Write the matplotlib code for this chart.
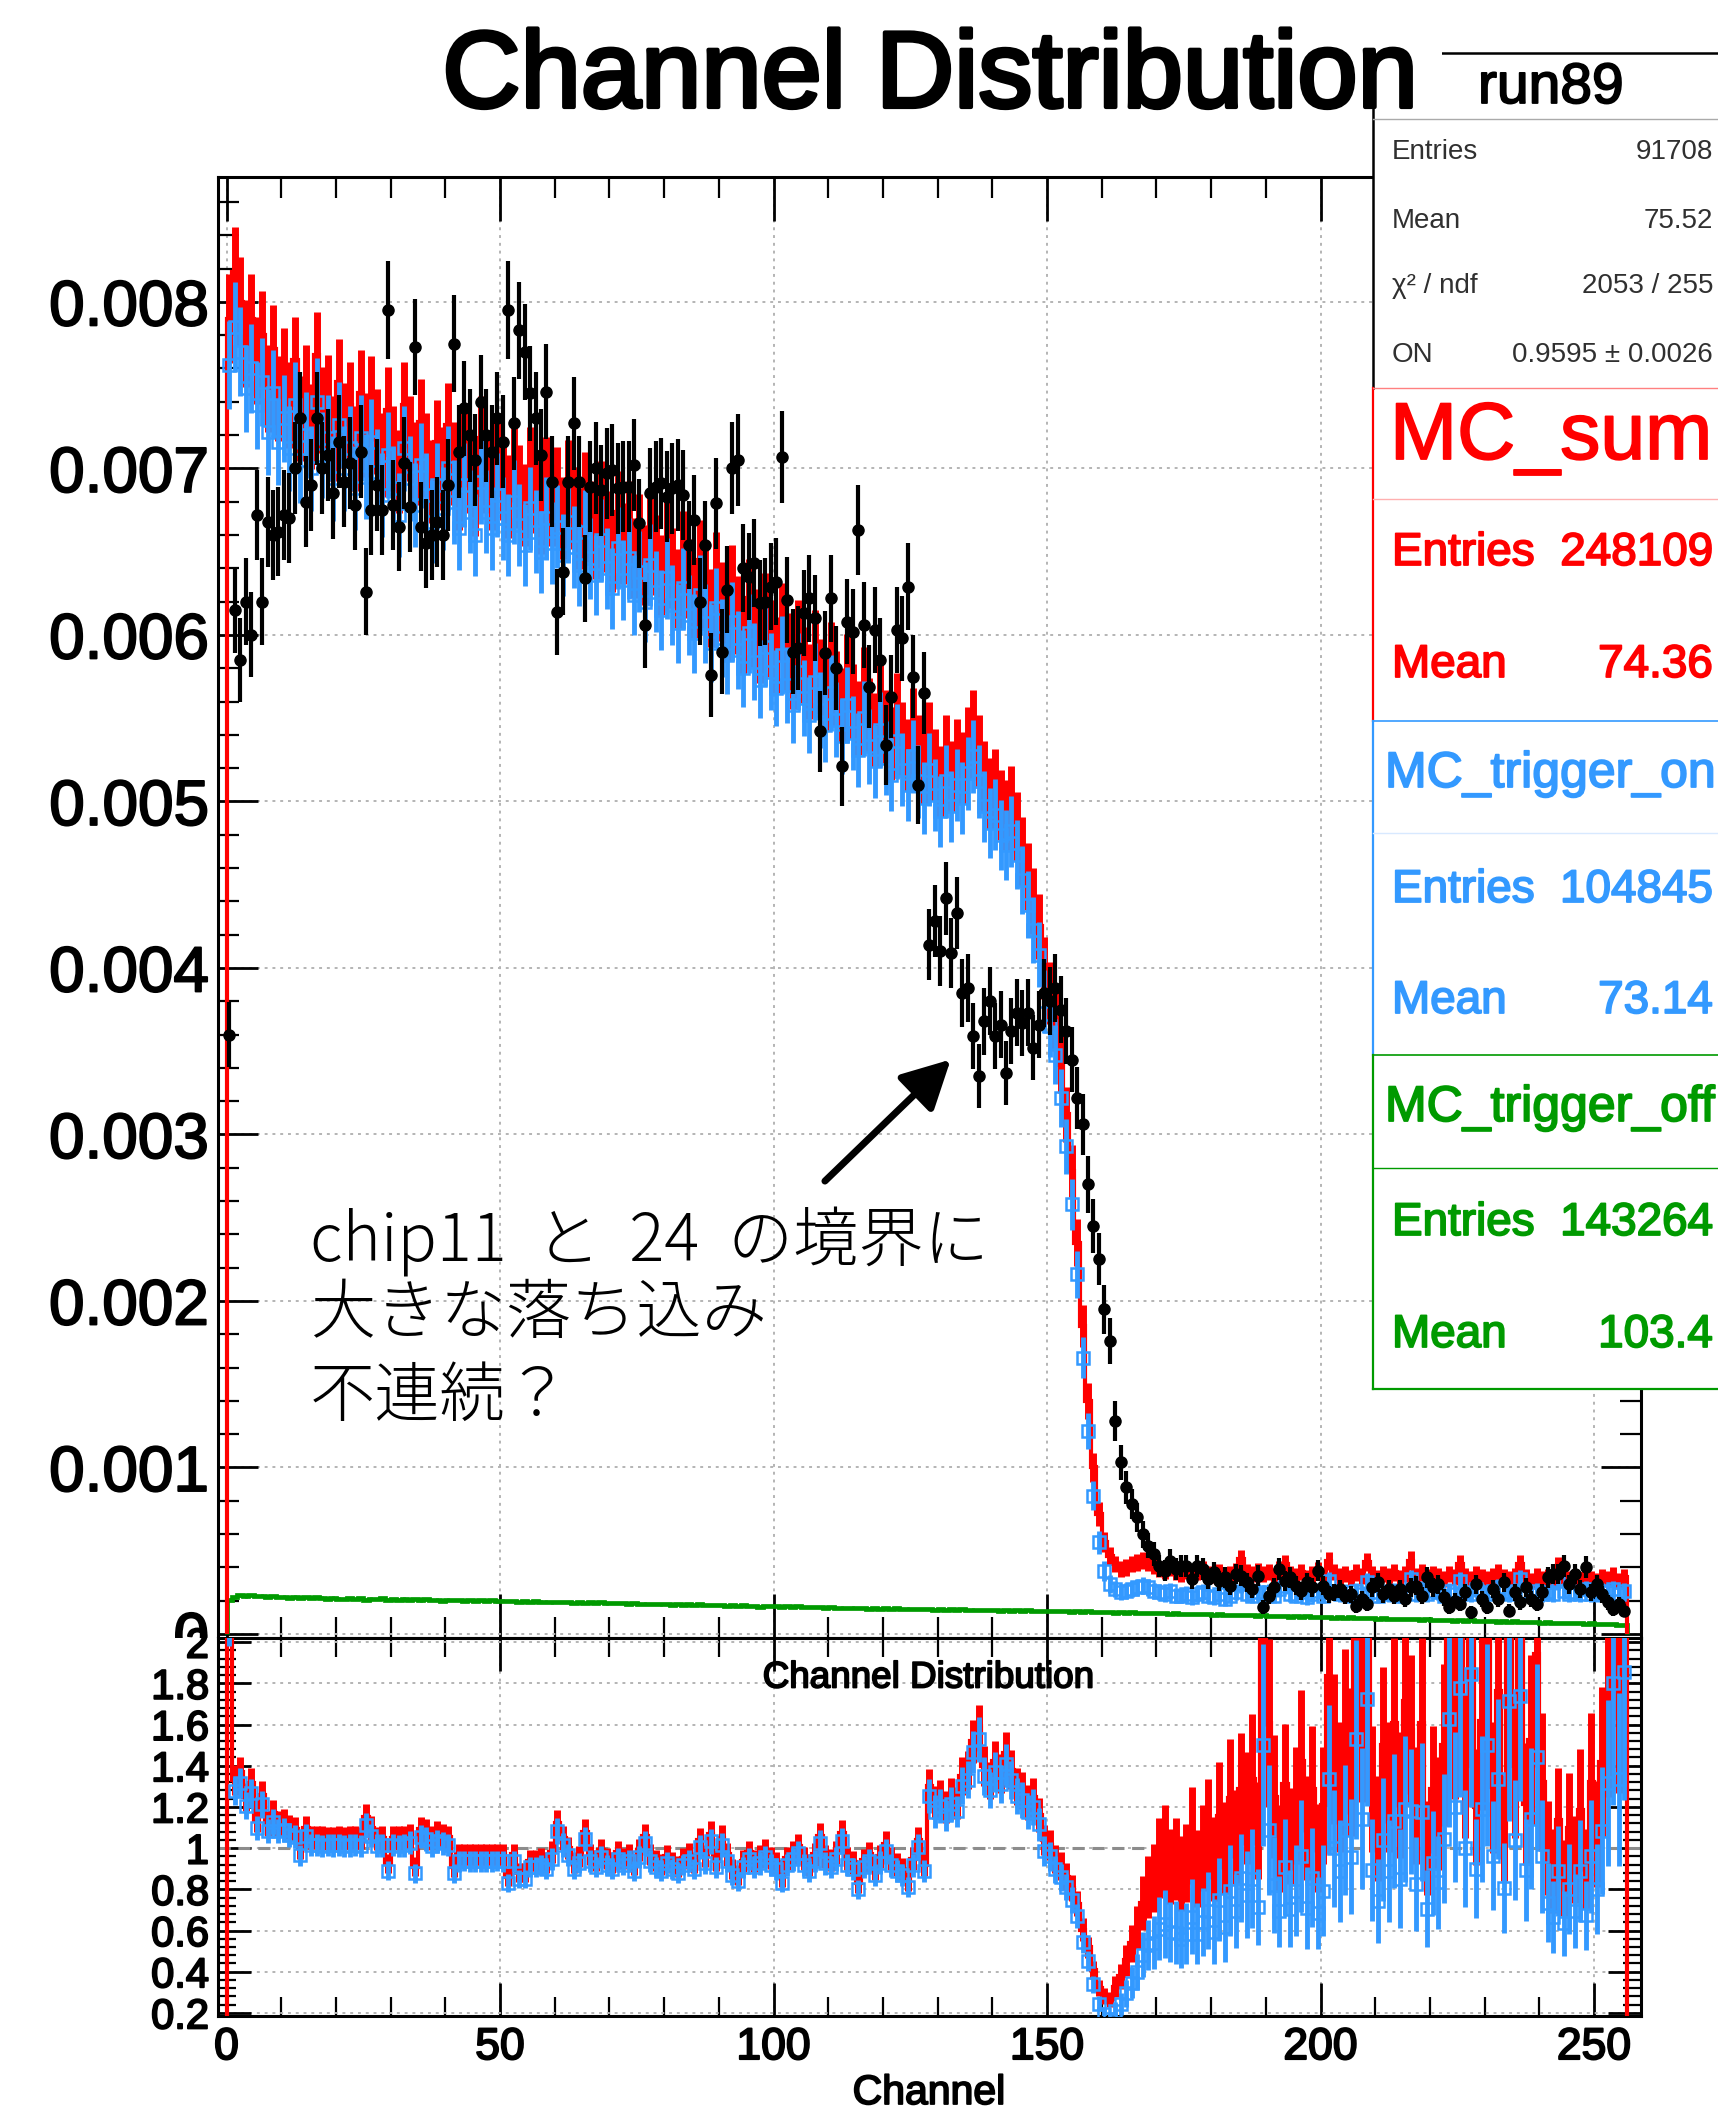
import numpy as np
import matplotlib
matplotlib.use("Agg")
import matplotlib.pyplot as plt
import matplotlib.patheffects as pe
from matplotlib.ticker import FixedLocator, MultipleLocator, AutoMinorLocator, FuncFormatter
from matplotlib.patches import Rectangle
from matplotlib.lines import Line2D

plt.rcParams['font.family'] = ['Liberation Sans', 'DejaVu Sans']

# ---- normalised bin contents per channel (0..255), in units of 1e-5 ----
data_e5 = [
    360, 615, 585, 620, 600, 672, 620, 668, 660, 662,
    672, 670, 700, 730, 680, 690, 730, 700, 708, 685,
    716, 692, 703, 678, 710, 626, 675, 690, 675, 795,
    678, 665, 703, 677, 773, 665, 655, 660, 668, 660,
    690, 775, 710, 736, 720, 705, 740, 720, 710, 730,
    716, 795, 727, 783, 770, 745, 730, 708, 746, 692,
    614, 638, 692, 727, 692, 634, 689, 700, 687, 697,
    699, 688, 689, 689, 702, 667, 606, 685, 689, 691,
    683, 688, 690, 684, 654, 669, 620, 654, 576, 679,
    590, 627, 700, 705, 640, 635, 643, 619, 620, 629,
    632, 707, 621, 590, 592, 613, 622, 610, 542, 589,
    622, 580, 521, 608, 602, 663, 606, 569, 603, 585,
    534, 563, 603, 598, 629, 575, 510, 565, 414, 428,
    410, 442, 409, 433, 385, 388, 359, 335, 368, 380,
    359, 366, 337, 362, 373, 367, 373, 352, 366, 385,
    380, 388, 375, 362, 345, 322, 306, 270, 245, 225,
    195, 176, 128, 103, 88, 78, 70, 60, 53, 48,
    41, 38, 44, 39, 41, 41, 33, 41, 39, 33,
    37, 32, 34, 29, 36, 35, 31, 27, 35, 16,
    23, 28, 39, 32, 34, 29, 26, 31, 28, 38,
    29, 24, 25, 27, 23, 24, 17, 21, 18, 28,
    31, 24, 27, 23, 27, 21, 28, 29, 23, 34,
    28, 30, 22, 16, 20, 18, 25, 13, 30, 21,
    16, 27, 21, 31, 14, 25, 19, 28, 21, 18,
    25, 34, 36, 36, 41, 30, 36, 27, 40, 25,
    30, 24, 19, 15, 18, 14,
]

mc_sum_e5 = [
    790, 818, 800, 775, 790, 765, 780, 748, 772, 742,
    758, 738, 765, 730, 748, 725, 768, 735, 742, 718,
    752, 726, 738, 712, 745, 720, 742, 722, 708, 735,
    712, 698, 738, 718, 703, 728, 708, 692, 716, 700,
    726, 703, 688, 714, 698, 684, 718, 698, 688, 708,
    694, 683, 705, 689, 678, 700, 686, 673, 694, 678,
    688, 670, 692, 676, 664, 685, 668, 658, 680, 662,
    650, 674, 655, 668, 646, 660, 642, 664, 648, 636,
    656, 640, 628, 650, 634, 622, 645, 628, 616, 638,
    620, 608, 630, 612, 600, 622, 604, 594, 614, 598,
    588, 608, 590, 578, 598, 582, 572, 592, 575, 565,
    585, 568, 558, 578, 560, 550, 570, 552, 543, 562,
    545, 535, 555, 538, 528, 546, 530, 520, 538, 522,
    512, 530, 515, 528, 520, 535, 545, 530, 515, 505,
    510, 498, 492, 500, 485, 470, 455, 440, 425, 400,
    385, 368, 342, 312, 278, 235, 185, 140, 100, 72,
    55, 47, 42, 39, 40, 42, 43, 44, 43, 41,
    39, 38, 40, 37, 36, 38, 35, 37, 39, 36,
    35, 37, 34, 36, 38, 45, 37, 36, 38, 36,
    37, 35, 39, 42, 36, 35, 37, 34, 36, 38,
    35, 44, 37, 35, 36, 34, 37, 35, 43, 36,
    34, 36, 35, 37, 34, 36, 44, 35, 37, 34,
    36, 35, 33, 36, 34, 42, 35, 33, 36, 34,
    33, 35, 37, 34, 33, 35, 42, 34, 32, 35,
    33, 34, 32, 41, 35, 33, 34, 32, 36, 33,
    32, 34, 33, 35, 32, 34,
]

mc_on_e5 = [
    762, 785, 770, 748, 760, 738, 752, 722, 745, 716,
    730, 712, 738, 705, 720, 700, 740, 708, 718, 694,
    726, 700, 712, 688, 718, 695, 716, 698, 684, 708,
    688, 672, 712, 694, 678, 702, 684, 668, 690, 676,
    700, 680, 664, 690, 674, 660, 692, 674, 664, 684,
    670, 660, 680, 666, 654, 676, 662, 650, 670, 655,
    665, 648, 668, 653, 642, 662, 646, 636, 657, 640,
    628, 652, 633, 646, 624, 638, 620, 642, 626, 615,
    634, 618, 607, 628, 612, 601, 624, 607, 595, 616,
    598, 588, 608, 591, 580, 601, 584, 573, 593, 578,
    568, 588, 570, 558, 578, 562, 552, 572, 555, 546,
    565, 549, 539, 558, 541, 531, 550, 533, 524, 543,
    526, 516, 536, 519, 510, 527, 512, 502, 519, 504,
    494, 512, 497, 510, 502, 517, 527, 512, 497, 487,
    492, 480, 474, 482, 468, 453, 438, 423, 408, 380,
    365, 348, 322, 293, 258, 216, 166, 122, 83, 55,
    38, 30, 27, 25, 26, 27, 28, 29, 28, 26,
    25, 24, 26, 23, 23, 24, 22, 24, 25, 23,
    22, 24, 21, 23, 25, 30, 24, 23, 25, 24,
    25, 23, 27, 29, 24, 23, 25, 22, 24, 26,
    23, 32, 25, 24, 25, 23, 26, 24, 31, 25,
    23, 25, 24, 26, 23, 25, 33, 24, 27, 24,
    26, 25, 23, 26, 24, 32, 25, 24, 27, 25,
    24, 26, 28, 25, 24, 26, 33, 25, 24, 26,
    24, 25, 24, 32, 26, 24, 25, 24, 27, 24,
    24, 26, 25, 27, 24, 26,
]

mc_off_e5 = [
    20.5, 22.0, 23.2, 22.6, 23.4, 22.7, 23.0, 22.2, 22.9, 22.1,
    22.5, 21.8, 22.4, 21.6, 22.1, 21.5, 22.2, 21.9, 21.2, 21.8,
    21.3, 21.0, 21.7, 21.1, 21.4, 20.7, 21.3, 21.0, 21.5, 20.6,
    20.9, 20.7, 21.2, 20.4, 20.9, 20.2, 20.8, 20.5, 20.6, 20.0,
    20.6, 20.3, 20.4, 19.8, 20.5, 20.0, 20.2, 19.7, 20.3, 19.6,
    20.0, 19.7, 19.8, 19.4, 19.9, 19.2, 19.7, 19.5, 19.5, 19.0,
    19.4, 19.1, 19.3, 18.8, 19.2, 18.7, 19.0, 18.6, 19.1, 18.4,
    18.8, 18.5, 18.6, 18.1, 18.7, 18.0, 18.3, 18.1, 18.2, 17.8,
    18.2, 17.6, 18.0, 17.7, 17.8, 17.3, 17.9, 17.2, 17.5, 17.2,
    17.4, 17.0, 17.5, 16.8, 17.2, 16.9, 17.0, 16.5, 16.9, 16.6,
    16.7, 16.4, 16.6, 16.1, 16.6, 16.0, 16.3, 16.1, 16.2, 15.8,
    16.1, 15.8, 15.9, 15.6, 15.9, 15.4, 15.8, 15.3, 15.6, 15.3,
    15.5, 15.1, 15.5, 15.0, 15.3, 15.0, 15.2, 14.8, 15.2, 14.7,
    15.0, 14.7, 14.9, 14.5, 14.9, 14.4, 14.7, 14.4, 14.6, 14.2,
    14.6, 14.1, 14.4, 14.1, 14.3, 13.9, 14.3, 13.8, 14.1, 13.9,
    13.7, 14.0, 13.6, 13.8, 13.5, 13.7, 13.3, 13.6, 13.2, 13.5,
    13.0, 13.3, 12.9, 13.2, 12.8, 13.0, 12.6, 12.9, 12.5, 12.8,
    12.4, 12.6, 12.2, 12.5, 12.1, 12.3, 11.9, 12.2, 11.8, 12.0,
    11.6, 11.9, 11.5, 11.7, 11.3, 11.6, 11.2, 11.4, 11.0, 11.2,
    10.8, 11.1, 10.7, 10.9, 10.5, 10.8, 10.4, 10.6, 10.2, 10.4,
    10.0, 10.3, 9.9, 10.1, 9.7, 10.0, 9.6, 9.8, 9.4, 9.6,
    9.2, 9.5, 9.1, 9.3, 8.9, 9.2, 8.8, 9.0, 8.6, 8.8,
    8.4, 8.7, 8.3, 8.5, 8.1, 8.4, 8.0, 8.2, 7.8, 8.0,
    7.6, 7.9, 7.5, 7.7, 7.3, 7.6, 7.2, 7.4, 7.0, 7.2,
    6.8, 7.1, 6.7, 6.9, 6.5, 6.8, 6.4, 6.6, 6.2, 6.4,
    6.0, 6.3, 5.9, 6.1, 5.7, 5.5,
]

# entries quoted in the stat boxes
entries_data = 91708
entries_sum = 248109
entries_on = 104845
entries_off = 143264

x_tick_values = [0, 50, 100, 150, 200, 250]
main_y_ticks = [0, 0.001, 0.002, 0.003, 0.004, 0.005, 0.006, 0.007, 0.008]
ratio_y_ticks = [0.2, 0.4, 0.6, 0.8, 1.0, 1.2, 1.4, 1.6, 1.8, 2.0]

for arr in (data_e5, mc_sum_e5, mc_on_e5, mc_off_e5):
    assert len(arr) == 256

data = np.array(data_e5, float) * 1e-5
mc_sum = np.array(mc_sum_e5, float) * 1e-5
mc_on = np.array(mc_on_e5, float) * 1e-5
mc_off = np.array(mc_off_e5, float) * 1e-5

edges = np.arange(257)
centers = edges[:-1] + 0.5


def stat_err(v, entries):
    """Poisson error of a normalised histogram with the given number of entries."""
    n_eff = entries / v.sum()
    return np.sqrt(v / n_eff)


err_data = stat_err(data, entries_data)
err_on = stat_err(mc_on, entries_on)
err_off = stat_err(mc_off, entries_off)
# the summed MC carries the errors of its two components
err_sum = np.sqrt(err_on ** 2 + err_off ** 2)

ratio_sum = mc_sum / data
ratio_on = mc_on / data
ratio_sum_err = ratio_sum * np.sqrt((err_sum / mc_sum) ** 2 + (err_data / data) ** 2)
ratio_on_err = ratio_on * np.sqrt((err_on / mc_on) ** 2 + (err_data / data) ** 2)

RED = '#ff0000'
BLUE = '#3399ff'
GREEN = '#009a00'
GRID = '#b4b4b4'

W, H = 1718, 2115


def fx(px):
    return px / W


def fy(py):
    return 1 - py / H


fig = plt.figure(figsize=(W / 100, H / 100), dpi=100)
fig.patch.set_facecolor('white')

# pixel frame of the two pads
L, R = 218, 1641
TOP, MID, BOT = 177, 1638, 2016

ax = fig.add_axes([fx(L), fy(MID), (R - L) / W, (MID - TOP) / H])
axr = fig.add_axes([fx(L), fy(BOT), (R - L) / W, (BOT - MID) / H])
ax.set_zorder(0)
axr.set_zorder(2)

xlo = (L - 226.5) / 5.47
xhi = (R - 226.5) / 5.47

# ---------------- upper pad ----------------
ax.set_xlim(xlo, xhi)
ax.set_ylim(-0.000024, 0.00875)
ax.set_axisbelow(True)
ax.grid(True, which='major', color=GRID, lw=1.4, ls=(0, (1.5, 2.5)))

ax.stairs(mc_off, edges, baseline=0, color=GREEN, lw=3.4, zorder=3)
ax.errorbar(centers, mc_off, yerr=err_off, fmt='none', ecolor=GREEN, elinewidth=2, zorder=3)

ax.stairs(mc_sum, edges, baseline=0, color=RED, lw=3.0, zorder=4)
ax.errorbar(centers, mc_sum, yerr=err_sum, fmt='none', ecolor=RED, elinewidth=5, zorder=4)

ax.errorbar(centers, mc_on, yerr=err_on, fmt='s', ms=8.5, mfc='none', mec=BLUE, mew=1.8,
            ecolor=BLUE, elinewidth=3.5, zorder=5)

ax.errorbar(centers, data, yerr=err_data, fmt='o', ms=8, color='black',
            ecolor='black', elinewidth=3.0, zorder=6)

ax.xaxis.set_major_locator(FixedLocator(x_tick_values))
ax.xaxis.set_minor_locator(MultipleLocator(10))
ax.yaxis.set_major_locator(FixedLocator(main_y_ticks))
ax.yaxis.set_minor_locator(AutoMinorLocator(5))
ax.yaxis.set_major_formatter(FuncFormatter(lambda v, p: '0' if abs(v) < 1e-9 else f'{v:.3f}'))
ax.tick_params(axis='x', which='major', direction='in', length=32, width=2,
               top=True, bottom=True, labelbottom=False)
ax.tick_params(axis='x', which='minor', direction='in', length=15, width=1.6,
               top=True, bottom=True)
ax.tick_params(axis='y', which='major', direction='in', length=29, width=2,
               left=True, right=True, labelsize=46, pad=6.5)
ax.tick_params(axis='y', which='minor', direction='in', length=15, width=1.6,
               left=True, right=True)
for s in ax.spines.values():
    s.set_linewidth(2.2)

# arrow pointing at the chip boundary
ax.annotate('', xy=(132.4, 0.00345), xytext=(109.4, 0.00272),
            arrowprops=dict(arrowstyle='-|>,head_length=0.42,head_width=0.22',
                            lw=5, color='black', mutation_scale=70, shrinkA=0, shrinkB=0),
            zorder=7)

# ---------------- lower (ratio) pad ----------------
axr.set_xlim(xlo, xhi)
axr.set_ylim(0.185, 2.02)
axr.set_axisbelow(True)
axr.grid(True, which='major', color=GRID, lw=1.4, ls=(0, (1.5, 2.5)))
axr.axhline(1.0, color='#8c8c8c', lw=2.2, ls=(0, (4, 2.5)), zorder=1.5)

axr.stairs(ratio_sum, edges, baseline=0, color=RED, lw=3.0, zorder=3)
axr.errorbar(centers, ratio_sum, yerr=ratio_sum_err, fmt='none', ecolor=RED,
             elinewidth=5, zorder=3)
axr.errorbar(centers, ratio_on, yerr=ratio_on_err, fmt='s', ms=8.5, mfc='none', mec=BLUE,
             mew=1.8, ecolor=BLUE, elinewidth=3.5, zorder=4)

axr.xaxis.set_major_locator(FixedLocator(x_tick_values))
axr.xaxis.set_minor_locator(MultipleLocator(10))
axr.yaxis.set_major_locator(FixedLocator(ratio_y_ticks))
axr.yaxis.set_minor_locator(AutoMinorLocator(5))
axr.yaxis.set_major_formatter(FuncFormatter(lambda v, p: f'{v:g}'))
axr.tick_params(axis='x', which='major', direction='in', length=24, width=2,
                top=True, bottom=True, labelsize=32, pad=8)
axr.tick_params(axis='x', which='minor', direction='in', length=14, width=1.6,
                top=True, bottom=True)
axr.tick_params(axis='y', which='major', direction='in', length=24, width=2,
                left=True, right=True, labelsize=30, pad=6.5)
axr.tick_params(axis='y', which='minor', direction='in', length=13, width=1.6,
                left=True, right=True)
for s in axr.spines.values():
    s.set_linewidth(2.2)

heavy = []  # texts that get a slightly heavier stroke

heavy.append(fig.text(fx(929), fy(2093), 'Channel', ha='center', va='center', fontsize=29.5))
heavy.append(fig.text(fx(928), fy(1678), 'Channel Distribution', ha='center', va='center',
                      fontsize=26.5, zorder=5))

# white margin under the upper pad, covering the lower half of its "0" label
fig.add_artist(Rectangle((0, 0), fx(L - 1), fy(MID), transform=fig.transFigure,
                         fc='white', ec='none', zorder=1))

# ---------------- stat boxes ----------------
BX = 1373
fig.add_artist(Rectangle((fx(BX), fy(1389)), (W - BX) / W, (1389 - 53) / H,
                         transform=fig.transFigure, fc='white', ec='none', zorder=1.5))


def hline(y, x0, x1, color, lw):
    fig.add_artist(Line2D([fx(x0), fx(x1)], [fy(y), fy(y)], transform=fig.transFigure,
                          color=color, lw=lw, zorder=2))


def vline(x, y0, y1, color, lw):
    fig.add_artist(Line2D([fx(x), fx(x)], [fy(y0), fy(y1)], transform=fig.transFigure,
                          color=color, lw=lw, zorder=2))


# data box
hline(53, BX, W, 'black', 1.8)
vline(BX, 53, 388, 'black', 1.8)
hline(119, BX, W, '#aaaaaa', 1.0)
# MC_sum box
vline(BX, 388, 721, RED, 1.6)
hline(388, BX, W, '#ff8080', 1.0)
hline(499, BX, W, '#ffb0b0', 1.0)
# MC_trigger_on box
vline(BX, 721, 1055, BLUE, 1.6)
hline(721, BX, W, BLUE, 1.2)
hline(833, BX, W, '#d8e9ff', 1.0)
# MC_trigger_off box
vline(BX, 1055, 1389, GREEN, 1.6)
hline(1055, BX, W, GREEN, 1.2)
hline(1168, BX, W, GREEN, 1.0)
hline(1389, BX, W, GREEN, 1.6)


def stat_text(y, left, right, color, size, bold=True):
    a = fig.text(fx(1392), fy(y), left, ha='left', va='center', color=color, fontsize=size, zorder=3)
    b = fig.text(fx(1713), fy(y), right, ha='right', va='center', color=color, fontsize=size, zorder=3)
    if bold:
        heavy.extend([a, b])


heavy.append(fig.text(fx(1551), fy(88), 'run89', ha='center', va='center', fontsize=41, zorder=3))
stat_text(152, 'Entries', f'{entries_data}', '#303030', 20, bold=False)
stat_text(221, 'Mean', '75.52', '#303030', 20, bold=False)
stat_text(286, 'χ² / ndf', '2053 / 255', '#303030', 20, bold=False)
stat_text(355, 'ON', '0.9595 ± 0.0026', '#303030', 20, bold=False)

heavy.append(fig.text(fx(1390), fy(438), 'MC_sum', ha='left', va='center', color=RED,
                      fontsize=58, zorder=3))
stat_text(553, 'Entries', f'{entries_sum}', RED, 33)
stat_text(665, 'Mean', '74.36', RED, 33)

heavy.append(fig.text(fx(1385), fy(774), 'MC_trigger_on', ha='left', va='center', color=BLUE,
                      fontsize=36, zorder=3))
stat_text(890, 'Entries', f'{entries_on}', BLUE, 33)
stat_text(1001, 'Mean', '73.14', BLUE, 33)

heavy.append(fig.text(fx(1385), fy(1108), 'MC_trigger_off', ha='left', va='center', color=GREEN,
                      fontsize=36, zorder=3))
stat_text(1223, 'Entries', f'{entries_off}', GREEN, 33)
stat_text(1335, 'Mean', '103.4', GREEN, 33)

# title on its own white pave (overlaps the corner of the stat box)
fig.add_artist(Rectangle((fx(420), fy(106)), (1442 - 420) / W, (106 - 8) / H,
                         transform=fig.transFigure, fc='white', ec='none', zorder=2.5))
title = fig.text(fx(930), fy(107), 'Channel Distribution', ha='center', va='baseline',
                 fontsize=78, zorder=3)
title.set_path_effects([pe.Stroke(linewidth=3.0), pe.Normal()])

# hand-written note
cjk = ['Noto Sans CJK JP', 'DejaVu Sans']
fig.text(fx(310), fy(1278), 'chip11  と  24  の境界に\n大きな落ち込み', ha='left', va='center',
         fontsize=47, family=cjk, fontweight='light', linespacing=1.07, zorder=3)
fig.text(fx(310), fy(1398), '不連続？', ha='left', va='center',
         fontsize=47, family=cjk, fontweight='light', zorder=3)

# thicken tick labels and box texts a little
fig.canvas.draw()
for lab in ax.get_yticklabels() + axr.get_yticklabels() + axr.get_xticklabels():
    lab.set_path_effects([pe.Stroke(linewidth=1.4), pe.Normal()])
for t in heavy:
    t.set_path_effects([pe.Stroke(linewidth=1.3), pe.Normal()])

fig.savefig('out.png', dpi=100)
